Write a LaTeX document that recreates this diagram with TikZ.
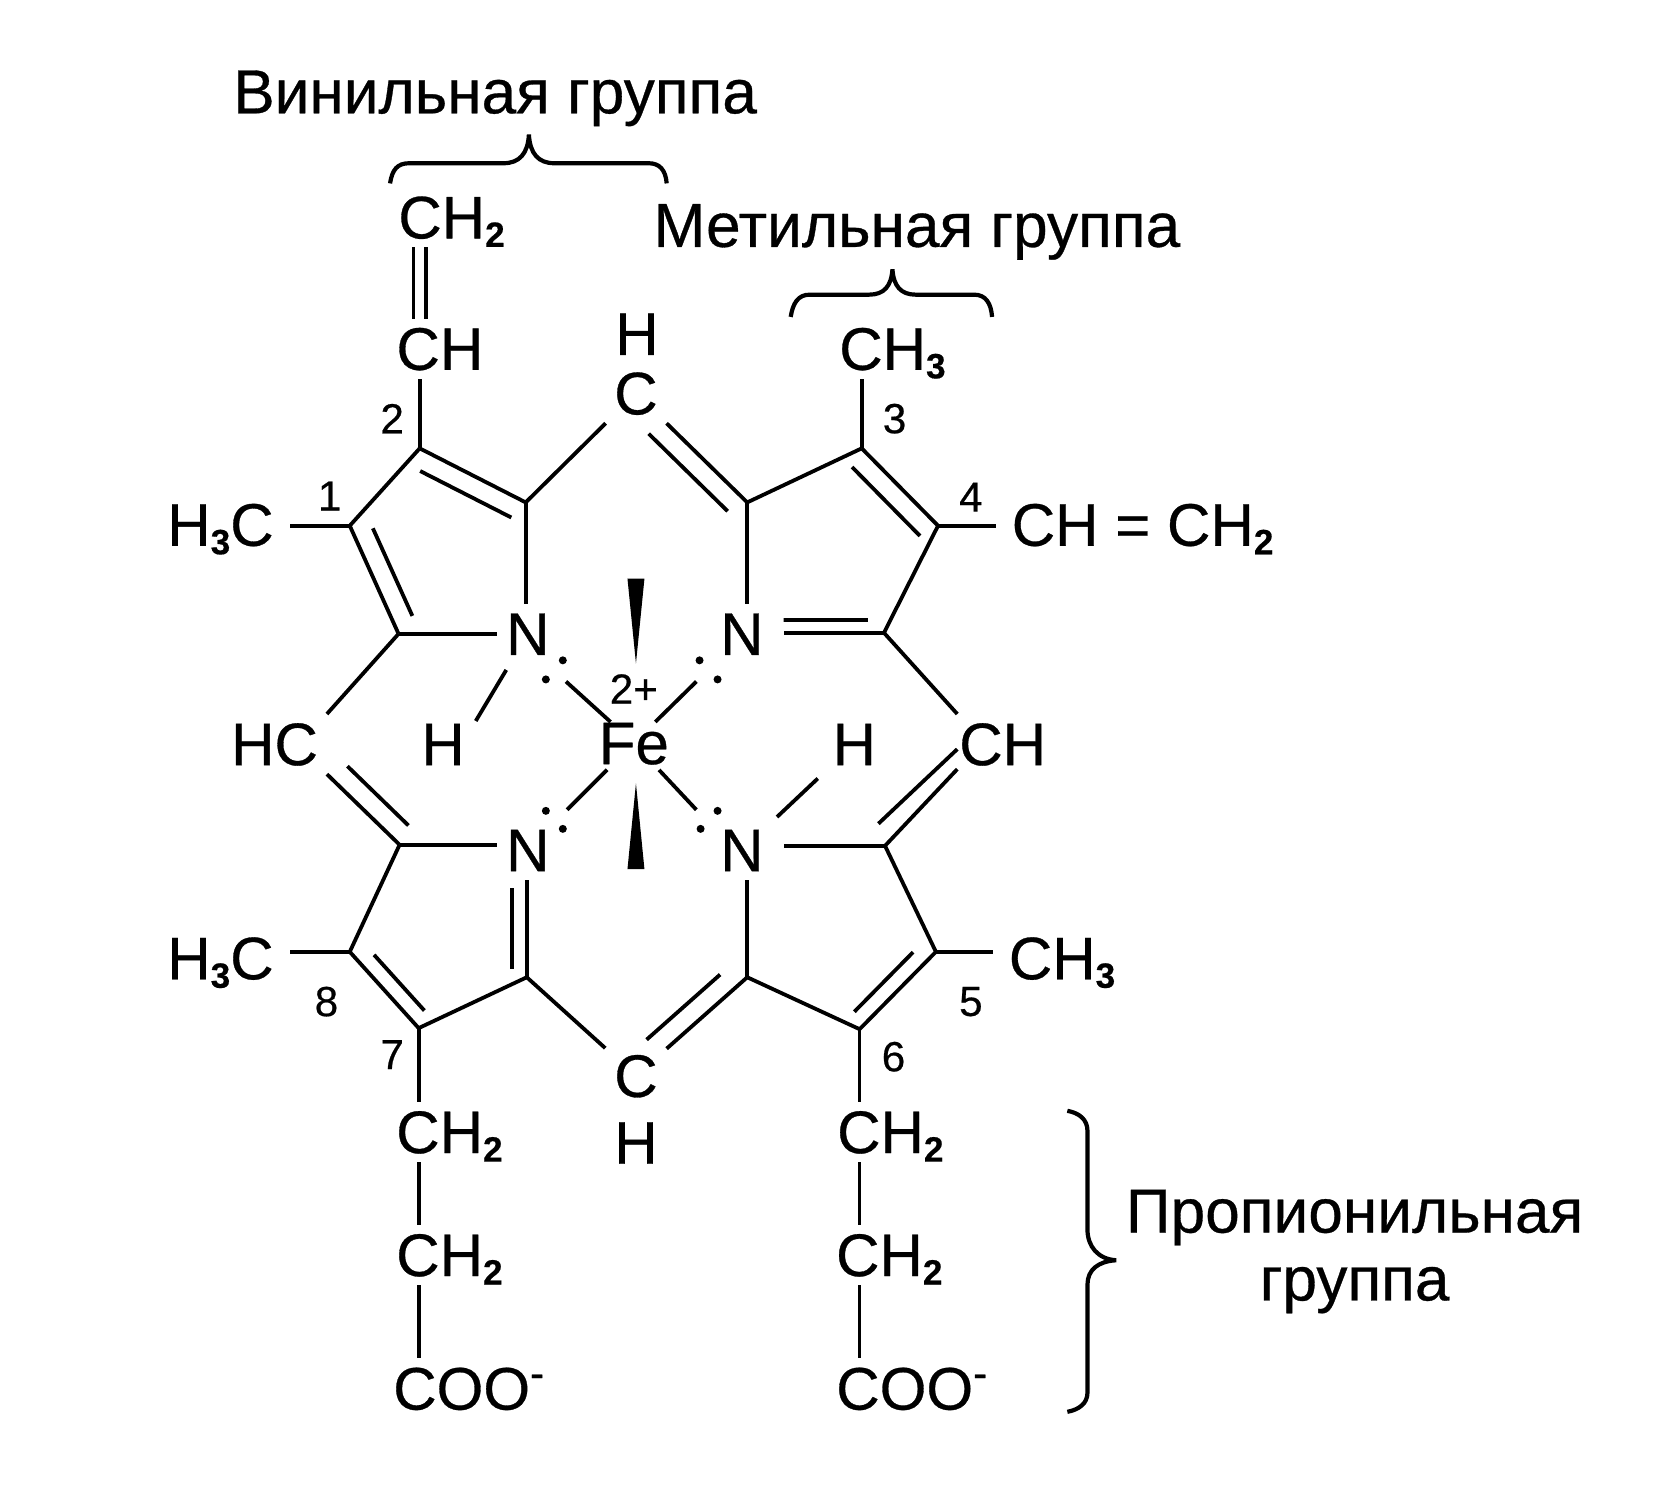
\documentclass[tikz,border=0pt]{standalone}
\usepackage{fontspec}
\setmainfont[FakeBold=.5]{Liberation Sans}
\usetikzlibrary{calc}
\newcommand{\dbl}[6][2mm]{%
  \draw (#2) -- (#3);
  \draw ($(#2)!#4!(#3)!#1!#6:(#3)$) -- ($(#2)!#5!(#3)!#1!#6:(#3)$);}
\newcommand{\sbs}[1]{\raisebox{-.85mm}{\fontsize{10}{12}\bfseries\selectfont #1}}
\tikzset{
  atom/.style={inner sep=0pt,outer sep=.9mm,text height=12pt,text depth=0pt,font=\fontsize{17.1}{20}\selectfont},
  subst/.style={atom,outer sep=1.6mm},
  posn/.style={inner sep=0pt,font=\fontsize{12}{14}\selectfont},
  title/.style={inner sep=0pt,text height=12pt,text depth=0pt,font=\fontsize{17.7}{20}\selectfont},
  hook/.style={line width=.42mm},
}
\begin{document}
\begin{tikzpicture}[x=.106mm,y=-.106mm,line width=.38mm]
  \useasboundingbox (0,0) rectangle (1569,1418);

  % ring corners
  \coordinate (c1) at (330,496);
  \coordinate (c2) at (396,423);
  \coordinate (c3) at (813,423);
  \coordinate (c4) at (885,496);
  \coordinate (c5) at (883,898);
  \coordinate (c6) at (811,971);
  \coordinate (c7) at (395,970);
  \coordinate (c8) at (330,898);
  \coordinate (a1) at (496,474);
  \coordinate (a2) at (705,474);
  \coordinate (a3) at (834,597);
  \coordinate (a4) at (835,798);
  \coordinate (a5) at (705,922);
  \coordinate (a6) at (497,922);
  \coordinate (a7) at (377,797);
  \coordinate (a8) at (376,598);

  % atoms
  \node[atom] (nA) at (498,598) {N};
  \node[atom] (nB) at (700,598) {N};
  \node[atom] (nC) at (498,802) {N};
  \node[atom] (nD) at (700,802) {N};
  \node[atom,outer sep=0pt] (fe) at (598,701) {Fe};
  \node[posn] (charge) at (598,650) {2+};
  \node[atom] (hA) at (418,702) {H};
  \node[atom] (hD) at (806,702) {H};
  \node[atom] (ctop) at (600,371) {C};
  \node[atom] (htop) at (601,315) {H};
  \node[atom] (clow) at (600,1015) {C};
  \node[atom] (hlow) at (600,1078) {H};
  \node[atom] (hcl) at (259,702) {HC};
  \node[atom] (chr) at (946,702) {CH};

  % side groups
  \node[atom] (vch) at (415,329) {CH};
  \node[atom] (vcht) at (426,205) {CH\sbs{2}};
  \node[atom] (mch) at (842,329) {CH\sbs{3}};
  \node[subst] (mleftA) at (208,495) {H\sbs{3}C};
  \node[subst] (mleftB) at (208,904) {H\sbs{3}C};
  \node[subst] (vright) at (1078,495) {CH = CH\sbs{2}};
  \node[subst] (mright) at (1002,904) {CH\sbs{3}};
  \node[atom] (pa) at (424,1068) {CH\sbs{2}};
  \node[atom] (pb) at (424,1184) {CH\sbs{2}};
  \node[atom] (pc) at (443,1310) {COO\textsuperscript{-}};
  \node[atom] (qa) at (840,1068) {CH\sbs{2}};
  \node[atom] (qb) at (839,1184) {CH\sbs{2}};
  \node[atom] (qc) at (861,1310) {COO\textsuperscript{-}};

  % position numbers
  \node[posn] (pos1) at (311,468) {1};
  \node[posn] (pos2) at (370,395) {2};
  \node[posn] (pos3) at (844,395) {3};
  \node[posn] (pos4) at (916,469) {4};
  \node[posn] (pos5) at (916,945) {5};
  \node[posn] (pos6) at (843,997) {6};
  \node[posn] (pos7) at (370,995) {7};
  \node[posn] (pos8) at (308,945) {8};

  % group names
  \node[title] (tvin) at (467,87) {Винильная группа};
  \node[title] (tmet) at (865,213) {Метильная группа};
  \node[title] (tproa) at (1278,1143) {Пропионильная};
  \node[title] (tprob) at (1278,1207) {группа};

  % rings
  \draw (c1) -- (c2);
  \dbl{c2}{a1}{.09}{.95}{-90}
  \draw (a1) -- (a1 |- nA.north);
  \draw (a8) -- (a8 -| nA.west);
  \dbl{c1}{a8}{.10}{.91}{90}

  \draw (a2) -- (c3);
  \dbl{c3}{c4}{.06}{.95}{-90}
  \draw (c4) -- (a3);
  \draw (a2) -- (a2 |- nB.north);
  \coordinate (nBe) at ([xshift=1.1mm]nB.east);
  \dbl[1.27mm]{a3}{a3 -| nBe}{.16}{1}{-90}

  \draw (a7) -- (c8);
  \dbl[1.6mm]{c8}{c7}{.18}{.91}{90}
  \draw (c7) -- (a6);
  \draw (a7) -- (a7 -| nC.west);
  \dbl[1.5mm]{a6}{a6 |- nC.south}{.09}{.92}{90}

  \draw (a4) -- (c5);
  \dbl[1.6mm]{c5}{c6}{.15}{.92}{-90}
  \draw (c6) -- (a5);
  \draw (a5) -- (a5 |- nD.south);
  \coordinate (nDe) at ([xshift=1.1mm]nD.east);
  \draw (a4) -- (a4 -| nDe);

  % bridges
  \coordinate (chrN) at ([xshift=.7mm]chr.north west);
  \coordinate (chrS) at ([xshift=.7mm,yshift=.5mm]chr.south west);
  \draw (a1) -- (ctop);
  \dbl{a2}{ctop}{.05}{.76}{90}
  \draw (a8) -- (hcl.north east);
  \dbl{a7}{hcl.south east}{.07}{.91}{-90}
  \draw (a3) -- (chrN);
  \dbl{a4}{chrS}{.11}{1}{90}
  \draw (a6) -- (clow);
  \dbl{a5}{clow}{.125}{.785}{-90}

  % substituents
  \draw (c1) -- (c1 -| mleftA.east);
  \draw (c8) -- (c8 -| mleftB.east);
  \draw (c4) -- (c4 -| vright.west);
  \draw (c5) -- (c5 -| mright.west);
  \draw (c2) -- (c2 |- vch.south);
  \draw[double,double distance=.85mm,line width=.36mm] (c2 |- vch.north) -- (c2 |- vcht.south);
  \draw (c3) -- (c3 |- mch.south);
  \draw (c7) -- (c7 |- pa.north);
  \draw (c7 |- pa.south) -- (c7 |- pb.north);
  \draw (c7 |- pb.south) -- (c7 |- pc.north);
  \draw (c6) -- (c6 |- qa.north);
  \draw (c6 |- qa.south) -- (c6 |- qb.north);
  \draw (c6 |- qb.south) -- (c6 |- qc.north);

  % hydrogens on N
  \draw[shorten <=.7mm] (nA) -- ([xshift=.2mm,yshift=-.7mm]hA.north east);
  \draw[shorten <=.6mm,shorten >=.8mm] (nD) -- (hD);

  % iron
  \coordinate (feA) at (534,643);
  \coordinate (feB) at (657,643);
  \coordinate (feC) at (535,764);
  \coordinate (feD) at (657,764);
  \foreach \e in {feA,feB}
    \draw (fe) -- (\e);
  \foreach \e in {feC,feD}
    \draw[shorten <=.8mm] (fe) -- (\e);
  \foreach \p in {(531,623),(515,641),(660,623),(677,641),(515,765),(531,782),(677,765),(661,782)}
    \fill \p circle (.4mm);
  \fill (592,546) -- (608,546) -- (600,626) -- cycle;
  \fill (600,739) -- (608,820) -- (592,820) -- cycle;

  % braces
  \draw[hook] (368,173) .. controls (370,160) and (375,154) .. (386,154) -- (475,154)
    .. controls (490,154) and (498,145) .. (499,127)
    .. controls (500,145) and (508,154) .. (523,154) -- (612,154)
    .. controls (622,154) and (628,160) .. (629,173);
  \draw[hook] (746,299) .. controls (748,286) and (753,278) .. (764,278) -- (820,278)
    .. controls (834,278) and (841,270) .. (842,254)
    .. controls (843,270) and (850,278) .. (864,278) -- (919,278)
    .. controls (930,278) and (935,286) .. (936,299);
  \draw[hook] (1007,1048) .. controls (1018,1050) and (1026,1056) .. (1026,1067) -- (1026,1160)
    .. controls (1026,1176) and (1036,1188) .. (1053,1189)
    .. controls (1036,1190) and (1026,1198) .. (1026,1212) -- (1026,1314)
    .. controls (1026,1324) and (1018,1330) .. (1007,1332);
\end{tikzpicture}
\end{document}
